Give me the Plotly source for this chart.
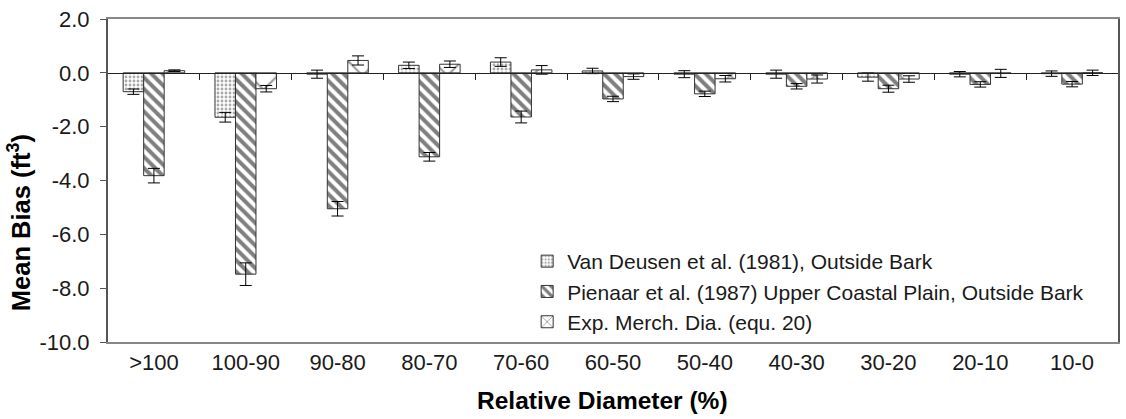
import plotly.graph_objects as go

categories = [">100", "100-90", "90-80", "80-70", "70-60", "60-50", "50-40", "40-30", "30-20", "20-10", "10-0"]

van_deusen = [-0.70, -1.65, -0.05, 0.28, 0.40, 0.07, -0.05, -0.05, -0.16, -0.05, -0.03]
van_deusen_err = [0.10, 0.18, 0.15, 0.12, 0.16, 0.10, 0.13, 0.15, 0.15, 0.10, 0.10]

pienaar = [-3.82, -7.48, -5.05, -3.12, -1.64, -0.97, -0.78, -0.50, -0.59, -0.43, -0.42]
pienaar_err = [0.27, 0.42, 0.27, 0.16, 0.22, 0.10, 0.10, 0.10, 0.13, 0.10, 0.10]

exp_merch = [0.08, -0.59, 0.46, 0.32, 0.11, -0.14, -0.22, -0.23, -0.23, -0.02, 0.00]
exp_merch_err = [0.03, 0.12, 0.17, 0.12, 0.16, 0.10, 0.12, 0.15, 0.12, 0.15, 0.10]

series_names = [
    "Van Deusen et al. (1981), Outside Bark",
    "Pienaar et al. (1987) Upper Coastal Plain, Outside Bark",
    "Exp. Merch. Dia. (equ. 20)",
]

y_tick_values = [2, 0, -2, -4, -6, -8, -10]
y_tick_labels = ["2.0", "0.0", "-2.0", "-4.0", "-6.0", "-8.0", "-10.0"]

FONT = "Liberation Sans, Arial, sans-serif"

fig = go.Figure()

styles = [
    dict(shape=".", fgcolor="#555555", bgcolor="white", size=4, solidity=0.4),
    dict(shape="\\", fgcolor="black", bgcolor="white", size=8, solidity=0.5),
    dict(shape="x", fgcolor="#333333", bgcolor="white", size=20, solidity=0.2),
]

for name, vals, errs, st in zip(series_names, [van_deusen, pienaar, exp_merch],
                                [van_deusen_err, pienaar_err, exp_merch_err], styles):
    fig.add_trace(go.Bar(
        x=categories, y=vals, name=name,
        marker=dict(color="white", line=dict(color="#333333", width=1), pattern=st),
        error_y=dict(type="data", array=errs, visible=True, color="black", thickness=1, width=6),
    ))

# invisible trace for the zero-line axis with ticks at category boundaries
fig.add_trace(go.Scatter(x=[0, 10], y=[0, 0], xaxis="x2", mode="lines",
                         line=dict(width=0), showlegend=False, hoverinfo="skip"))

fig.update_layout(
    width=1126, height=419,
    margin=dict(l=108, r=6, t=19, b=77),
    paper_bgcolor="white", plot_bgcolor="white",
    barmode="group", bargap=0.33, bargroupgap=0,
    font=dict(family=FONT, size=21, color="#1a1a1a"),
    xaxis=dict(
        type="category", range=[-0.5, 10.5],
        showline=True, linecolor="#888888", linewidth=2, mirror=True,
        ticks="", showgrid=False, zeroline=False,
        tickfont=dict(size=22, family=FONT, color="#1a1a1a"),
    ),
    xaxis2=dict(
        overlaying="x", anchor="free", position=10 / 12, range=[-0.5, 10.5],
        tickvals=[i + 0.5 for i in range(10)], showticklabels=False,
        ticks="outside", ticklen=6, tickcolor="#222222", tickwidth=1,
        showline=True, linecolor="#222222", linewidth=1, showgrid=False, zeroline=False,
    ),
    yaxis=dict(
        range=[-10, 2], tickvals=y_tick_values, ticktext=y_tick_labels,
        showline=True, linecolor="#555555", linewidth=2, mirror=True,
        ticks="outside", ticklen=6, tickcolor="#555555",
        ticklabelstandoff=6,
        showgrid=False, zeroline=False,
        tickfont=dict(size=22, family=FONT, color="#1a1a1a"),
    ),
    legend=dict(
        x=(528 - 108) / 1012, y=(342 - 241) / 323, xanchor="left", yanchor="top",
        bgcolor="rgba(255,255,255,0)", borderwidth=0,
        font=dict(size=21, family=FONT, color="#1a1a1a"),
        itemwidth=30, tracegroupgap=0,
    ),
    annotations=[
        dict(text="<b>Relative Diameter (%)</b>", xref="paper", yref="paper",
             x=(603 - 108) / 1012, y=(342 - 400) / 323, xanchor="center", yanchor="middle",
             showarrow=False, font=dict(size=24.5, family=FONT, color="black")),
        dict(text="<b>Mean Bias (ft<sup>3</sup>)</b>", xref="paper", yref="paper",
             x=(19 - 108) / 1012, y=(342 - 223) / 323, xanchor="center", yanchor="middle",
             textangle=-90, showarrow=False, font=dict(size=25.5, family=FONT, color="black")),
    ],
)

fig.write_html("out.html")
